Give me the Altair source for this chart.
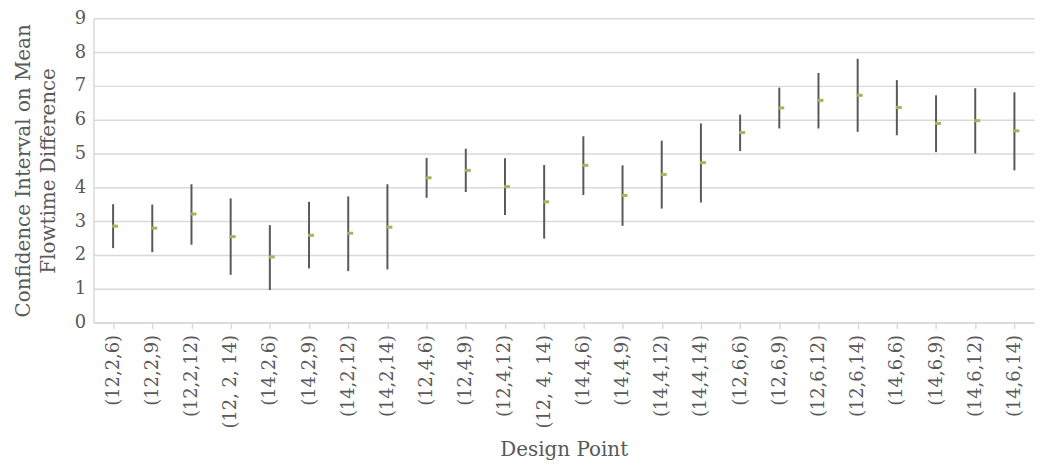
import altair as alt
import pandas as pd

points = ["(12,2,6)", "(12,2,9)", "(12,2,12)", "(12, 2, 14)", "(14,2,6)", "(14,2,9)",
          "(14,2,12)", "(14,2,14)", "(12,4,6)", "(12,4,9)", "(12,4,12)", "(12, 4, 14)",
          "(14,4,6)", "(14,4,9)", "(14,4,12)", "(14,4,14)", "(12,6,6)", "(12,6,9)",
          "(12,6,12)", "(12,6,14)", "(14,6,6)", "(14,6,9)", "(14,6,12)", "(14,6,14)"]
upper = [3.50, 3.49, 4.09, 3.67, 2.88, 3.57, 3.73, 4.09, 4.87, 5.14, 4.86, 4.66,
         5.51, 4.65, 5.38, 5.89, 6.15, 6.95, 7.38, 7.80, 7.17, 6.72, 6.93, 6.81]
lower = [2.20, 2.08, 2.30, 1.41, 0.96, 1.60, 1.52, 1.57, 3.69, 3.86, 3.18, 2.48,
         3.77, 2.86, 3.37, 3.55, 5.07, 5.74, 5.74, 5.64, 5.54, 5.04, 5.00, 4.50]
mean = [2.85, 2.79, 3.21, 2.54, 1.94, 2.58, 2.64, 2.82, 4.28, 4.50, 4.02, 3.57,
        4.65, 3.76, 4.38, 4.73, 5.62, 6.35, 6.57, 6.72, 6.36, 5.89, 5.97, 5.67]

df = pd.DataFrame({"point": points, "upper": upper, "lower": lower, "mean": mean})

FONT = "DejaVu Serif"
GREY = "#595959"

x = alt.X("point:N", sort=points, title="Design Point",
          scale=alt.Scale(type="point", padding=0.5),
          axis=alt.Axis(labelAngle=270, labelFontSize=18, titleFontSize=20,
                        labelPadding=6, tickSize=6, tickColor="#d9d9d9", tickWidth=1.5,
                        titlePadding=12, grid=False))
y_scale = alt.Scale(domain=[0, 9], nice=False)
y_axis = alt.Axis(values=list(range(10)), tickCount=10, ticks=False, labelFontSize=18,
                  labelPadding=8, titleFontSize=20,
                  titleLineHeight=25, titlePadding=16, grid=True)

rules = alt.Chart(df).mark_rule(color=GREY, strokeWidth=2).encode(
    x=x,
    y=alt.Y("lower:Q", scale=y_scale, axis=y_axis,
            title=["Confidence Interval on Mean", "Flowtime Difference"]),
    y2="upper:Q",
)
ticks = alt.Chart(df).mark_tick(color="#9BBB59", size=6, thickness=3, xOffset=2,
                                opacity=1).encode(
    x=x,
    y=alt.Y("mean:Q", scale=y_scale),
)

chart = (rules + ticks).properties(
    width=946, height=306,
    autosize=alt.AutoSizeParams(type="none"),
    padding={"left": 86, "top": 9, "right": 2, "bottom": 142},
).configure_axis(
    labelFont=FONT, titleFont=FONT, labelColor=GREY, titleColor=GREY,
    titleFontWeight="normal", gridColor="#d9d9d9", gridWidth=1.5,
    domainColor="#d9d9d9", domainWidth=1.5,
).configure_view(stroke=None)

chart.save("out.html", embed_options={"renderer": "svg", "actions": False})
